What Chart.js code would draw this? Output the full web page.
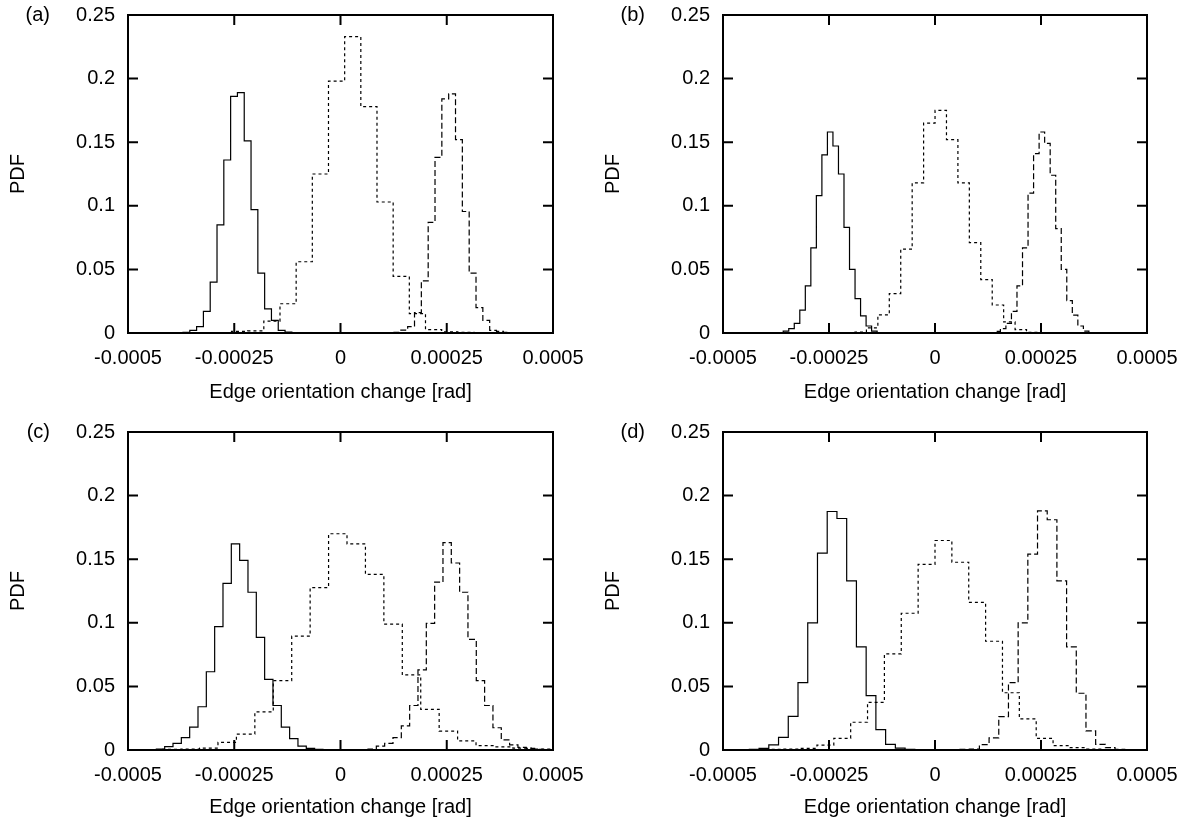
<!DOCTYPE html>
<html lang="en">
  <head>
    <meta charset="utf-8" />
    <title>Edge orientation change PDF</title>
    <script src="https://cdn.jsdelivr.net/npm/chart.js@4.4.1/dist/chart.umd.min.js"></script>
    <style>
      html,
      body {
        margin: 0;
        padding: 0;
        background: #ffffff;
        overflow: hidden;
      }
      .panel {
        position: absolute;
      }
    </style>
  </head>
  <body>
    <div class="panel" style="left: 0; top: 0"><canvas id="pa" width="600" height="410"></canvas></div>
    <div class="panel" style="left: 595px; top: 0"><canvas id="pb" width="600" height="410"></canvas></div>
    <div class="panel" style="left: 0; top: 417px"><canvas id="pc" width="600" height="408"></canvas></div>
    <div class="panel" style="left: 595px; top: 417px"><canvas id="pd" width="600" height="408"></canvas></div>
    <script>
      // Axis ticks
      const xTicks = [-0.0005, -0.00025, 0, 0.00025, 0.0005];
      const xTickLabels = ["-0.0005", "-0.00025", "0", "0.00025", "0.0005"];
      const yTicks = [0, 0.05, 0.1, 0.15, 0.2, 0.25];
      const yTickLabels = ["0", "0.05", "0.1", "0.15", "0.2", "0.25"];

      // Histograms: first bin edge, bin width, bin heights (solid, dotted, dashed)
      // panel (a)
      const aStarts = [-0.0003706, -0.0002565, 0.0001259];
      const aWidths = [0.00001601, 0.00003804, 0.00001608];
      const aSolid = [0.0005, 0.002, 0.005, 0.017, 0.04, 0.085, 0.136, 0.186, 0.189, 0.151, 0.097, 0.047, 0.019, 0.01, 0.002, 0.0008, 0.0003];
      const aDotted = [0.0012, 0.0016, 0.0094, 0.023, 0.056, 0.125, 0.198, 0.233, 0.178, 0.103, 0.0445, 0.0152, 0.0027, 0.001, 0.0006, 0.0004, 0.0003];
      const aDashed = [0.0006, 0.0022, 0.005, 0.016, 0.041, 0.087, 0.138, 0.184, 0.188, 0.152, 0.0955, 0.047, 0.02, 0.01, 0.002, 0.0012, 0.0005];

      // panel (b)
      const bStarts = [-0.000371, -0.0001887, 0.0001281];
      const bWidths = [0.00001303, 0.00002697, 0.00001305];
      const bSolid = [0.0003, 0.0014, 0.0035, 0.0075, 0.018, 0.037, 0.067, 0.108, 0.14, 0.158, 0.147, 0.125, 0.083, 0.05, 0.027, 0.0135, 0.0055, 0.0015, 0.0004];
      const bDotted = [0.0008, 0.004, 0.0142, 0.031, 0.066, 0.118, 0.165, 0.175, 0.152, 0.118, 0.071, 0.042, 0.022, 0.0087, 0.0027, 0.0005];
      const bDashed = [0.0003, 0.0013, 0.0035, 0.0075, 0.017, 0.037, 0.067, 0.11, 0.141, 0.158, 0.149, 0.124, 0.082, 0.05, 0.0255, 0.014, 0.0055, 0.0015, 0.0004];

      // panel (c)
      const cStarts = [-0.0004333, -0.0004184, 0.0000647];
      const cWidths = [0.0000196, 0.00004337, 0.0000196];
      const cSolid = [0.0008, 0.0026, 0.0052, 0.0097, 0.018, 0.034, 0.0615, 0.097, 0.131, 0.162, 0.149, 0.124, 0.0885, 0.0555, 0.035, 0.018, 0.009, 0.003, 0.0012, 0.0006, 0.0003];
      const cDotted = [0.0005, 0.0008, 0.0015, 0.006, 0.0125, 0.03, 0.0545, 0.0895, 0.1277, 0.17, 0.162, 0.138, 0.099, 0.059, 0.032, 0.0149, 0.0071, 0.0035, 0.0025, 0.0015, 0.0008];
      const cDashed = [0.0008, 0.003, 0.0052, 0.0097, 0.019, 0.035, 0.063, 0.0995, 0.132, 0.163, 0.147, 0.124, 0.087, 0.0545, 0.035, 0.0175, 0.008, 0.004, 0.002, 0.0012, 0.0006];

      // panel (d)
      const dStarts = [-0.0004379, -0.0003978, 0.000059];
      const dWidths = [0.00002296, 0.00003978, 0.00002285];
      const dSolid = [0.0005, 0.0013, 0.004, 0.01, 0.0265, 0.053, 0.1, 0.1547, 0.1875, 0.182, 0.133, 0.081, 0.0427, 0.016, 0.0045, 0.0014, 0.0006];
      const dDotted = [0.0005, 0.0008, 0.0013, 0.0038, 0.0092, 0.0218, 0.0375, 0.0755, 0.1075, 0.146, 0.1647, 0.1476, 0.116, 0.0855, 0.045, 0.0244, 0.0092, 0.0034, 0.0018, 0.0008];
      const dDashed = [0.0005, 0.0008, 0.0042, 0.0095, 0.0262, 0.053, 0.1, 0.154, 0.188, 0.181, 0.133, 0.081, 0.0446, 0.015, 0.0045, 0.0018, 0.0006];

      const lineDashes = [[], [3, 3], [6, 3]];
      const font = { family: '"Liberation Sans", Arial, Helvetica, sans-serif', size: 20 };

      // step outline: point at each bin's left edge, closed at the last right edge
      function histPoints(start, width, heights) {
        const pts = [{ x: start, y: 0 }];
        heights.forEach((h, i) => pts.push({ x: start + i * width, y: h }));
        pts.push({ x: start + heights.length * width, y: 0 });
        return pts;
      }

      // gnuplot-like box: frame, inward ticks on all four sides, panel letter
      const frameTicks = {
        id: "frameTicks",
        afterDatasetsDraw(chart, args, opts) {
          const { ctx, chartArea: a } = chart;
          const x = chart.scales.x;
          const y = chart.scales.y;
          ctx.save();
          ctx.strokeStyle = "#000";
          ctx.lineWidth = 2;
          ctx.beginPath();
          xTicks.slice(1, -1).forEach((v) => {
            const px = x.getPixelForValue(v);
            ctx.moveTo(px, a.bottom);
            ctx.lineTo(px, a.bottom - 10);
            ctx.moveTo(px, a.top);
            ctx.lineTo(px, a.top + 10);
          });
          yTicks.slice(1, -1).forEach((v) => {
            const py = y.getPixelForValue(v);
            ctx.moveTo(a.left, py);
            ctx.lineTo(a.left + 10, py);
            ctx.moveTo(a.right, py);
            ctx.lineTo(a.right - 10, py);
          });
          ctx.stroke();
          ctx.strokeRect(a.left, a.top, a.right - a.left, a.bottom - a.top);
          ctx.font = font.size + "px " + font.family;
          ctx.fillStyle = "#000";
          ctx.textAlign = "right";
          ctx.textBaseline = "middle";
          ctx.fillText(opts.label, a.left - 78, a.top);
          ctx.restore();
        },
      };

      function makePanel(id, label, starts, widths, series, padRight, xAxisHeight) {
        new Chart(document.getElementById(id), {
          type: "line",
          data: {
            datasets: series.map((h, i) => ({
              data: histPoints(starts[i], widths[i], h),
              borderColor: "#000",
              borderWidth: 1.2,
              borderDash: lineDashes[i],
              stepped: true,
              pointRadius: 0,
              fill: false,
            })),
          },
          options: {
            responsive: false,
            animation: false,
            layout: { padding: { top: 15, right: padRight, left: 0, bottom: 0 } },
            plugins: {
              legend: { display: false },
              tooltip: { enabled: false },
              frameTicks: { label: label },
            },
            scales: {
              x: {
                type: "linear",
                min: -0.0005,
                max: 0.0005,
                afterBuildTicks: (s) => {
                  s.ticks = xTicks.map((v) => ({ value: v }));
                },
                afterFit: (s) => {
                  s.height = xAxisHeight;
                  s.paddingLeft = 0;
                  s.paddingRight = 0;
                },
                grid: { display: false, drawTicks: false },
                border: { display: false },
                ticks: {
                  padding: 13,
                  color: "#000",
                  font: font,
                  autoSkip: false,
                  maxRotation: 0,
                  callback: (v, i) => xTickLabels[i],
                },
                title: {
                  display: true,
                  text: "Edge orientation change [rad]",
                  color: "#000",
                  font: font,
                  padding: 6,
                },
              },
              y: {
                type: "linear",
                min: 0,
                max: 0.25,
                afterBuildTicks: (s) => {
                  s.ticks = yTicks.map((v) => ({ value: v }));
                },
                afterFit: (s) => {
                  s.width = 128;
                  s.paddingTop = 0;
                  s.paddingBottom = 0;
                },
                grid: { display: false, drawTicks: false },
                border: { display: false },
                ticks: {
                  padding: 13,
                  color: "#000",
                  font: font,
                  autoSkip: false,
                  callback: (v, i) => yTickLabels[i],
                },
                title: {
                  display: true,
                  text: "PDF",
                  color: "#000",
                  font: font,
                  padding: 6,
                },
              },
            },
          },
          plugins: [frameTicks],
        });
      }

      makePanel("pa", "(a)", aStarts, aWidths, [aSolid, aDotted, aDashed], 47, 77);
      makePanel("pb", "(b)", bStarts, bWidths, [bSolid, bDotted, bDashed], 48, 77);
      makePanel("pc", "(c)", cStarts, cWidths, [cSolid, cDotted, cDashed], 47, 75);
      makePanel("pd", "(d)", dStarts, dWidths, [dSolid, dDotted, dDashed], 48, 75);
    </script>
  </body>
</html>
